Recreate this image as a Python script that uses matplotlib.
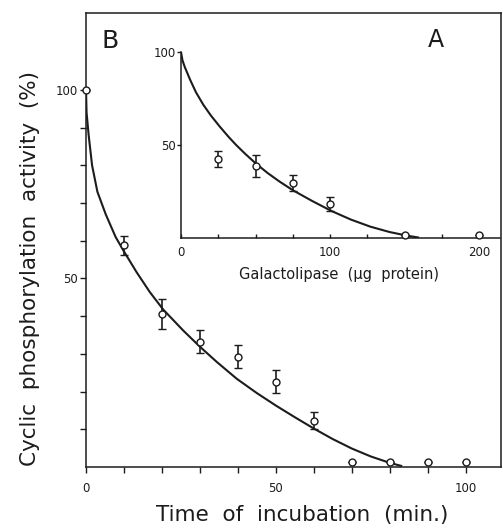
import matplotlib
matplotlib.use("Agg")
import matplotlib.pyplot as plt
from matplotlib.ticker import MultipleLocator, FixedLocator

# ---- Main panel (B): time course ----
time_min = [0, 10, 20, 30, 40, 50, 60, 70, 80, 90, 100]
activity_b = [100, 58.8, 40.5, 33.2, 29.3, 22.6, 12.3, 1.2, 1.2, 1.2, 1.2]
err_b = [0, 2.5, 4.0, 3.0, 3.0, 3.0, 2.3, 0, 0, 0, 0]

curve_b_x = [0, 0.15, 0.7, 1.6, 3.0, 5.2, 7.8, 9.8, 13.3, 16.8, 20.3, 25.6,
             30.0, 34.4, 39.7, 45, 50, 55, 60, 65, 70, 75, 80, 83]
curve_b_y = [100, 94, 88, 80, 73, 67, 61, 57.5, 51.7, 46.4, 41.8, 36.2,
             31.9, 27.9, 23.4, 19.6, 16.3, 13.2, 10.2, 7.4, 4.9, 2.8, 1.1, 0.3]

# ---- Inset (A): enzyme amount ----
galacto_ug = [25, 50, 75, 100, 150, 200]
activity_a = [42.3, 38.7, 29.6, 18.3, 1.6, 1.6]
err_a = [4.3, 6.0, 4.3, 3.8, 0, 0]

curve_a_x = [0, 1, 2.5, 6, 10, 15, 20, 26, 32, 37, 43, 50, 58, 66, 75, 88,
             101, 114, 127, 140, 152, 159]
curve_a_y = [100, 95.5, 92, 85.3, 78.4, 71.6, 65.9, 59.9, 54.3, 50.0, 45.3,
             40.2, 35.0, 30.4, 25.7, 19.9, 14.5, 9.9, 6.1, 3.2, 1.2, 0.3]

ink = "#1c1c1c"
plt.rcParams["font.family"] = ["DejaVu Sans"]

fig = plt.figure(figsize=(5.03, 5.28), dpi=100)
fig.patch.set_facecolor("white")

ax = fig.add_axes([86 / 503, 1 - 467 / 528, 415 / 503, 454 / 528])
ax.plot(curve_b_x, curve_b_y, color=ink, lw=1.5, zorder=2,
        solid_joinstyle="round")
ax.errorbar(time_min, activity_b, yerr=err_b, fmt="o", mfc="white", mec=ink,
            ms=5, mew=1.0, ecolor=ink, elinewidth=1.2, capsize=3, capthick=1.2,
            zorder=3, clip_on=False)
ax.set_xlim(0, 109.3)
ax.set_ylim(0, 120.4)
ax.xaxis.set_major_locator(FixedLocator([0, 50, 100]))
ax.xaxis.set_minor_locator(MultipleLocator(10))
ax.yaxis.set_major_locator(FixedLocator([50, 100]))
ax.yaxis.set_minor_locator(FixedLocator([10, 20, 30, 40, 60, 70, 80, 90]))
ax.tick_params(which="both", direction="out", length=4, width=1, color=ink,
               labelcolor=ink, labelsize=8.5)
ax.tick_params(axis="x", which="both", pad=7)
ax.tick_params(axis="y", which="both", pad=1.5)
for s in ax.spines.values():
    s.set_linewidth(1.1)
    s.set_color(ink)

ax.set_xlabel("Time  of  incubation  (min.)", fontsize=15.5, color=ink)
ax.xaxis.set_label_coords((302 - 86) / 415, (467 - 505) / 454)
ax.set_ylabel("Cyclic  phosphorylation  activity  (%)", fontsize=15.5,
              color=ink)
ax.yaxis.set_label_coords((40 - 86) / 415, (467 - 268) / 454)
fig.text(110 / 503, 1 - 41 / 528, "B", fontsize=18, color=ink, ha="center",
         va="center")
fig.text(436 / 503, 1 - 40 / 528, "A", fontsize=17, color=ink, ha="center",
         va="center")

# inset
ins = fig.add_axes([181 / 503, 1 - 238 / 528, 319 / 503, 186 / 528])
ins.patch.set_alpha(0)
ins.plot(curve_a_x, curve_a_y, color=ink, lw=1.5, zorder=2,
         solid_joinstyle="round")
ins.errorbar(galacto_ug, activity_a, yerr=err_a, fmt="o", mfc="white", mec=ink,
             ms=5, mew=1.0, ecolor=ink, elinewidth=1.2, capsize=3,
             capthick=1.2, zorder=3, clip_on=False)
ins.set_xlim(0, 214)
ins.set_ylim(0, 100)
ins.spines["top"].set_visible(False)
ins.spines["right"].set_visible(False)
for s in ("left", "bottom"):
    ins.spines[s].set_linewidth(1.1)
    ins.spines[s].set_color(ink)
ins.xaxis.set_major_locator(FixedLocator([0, 100, 200]))
ins.xaxis.set_minor_locator(MultipleLocator(25))
ins.yaxis.set_major_locator(FixedLocator([50, 100]))
ins.yaxis.set_minor_locator(FixedLocator([]))
ins.tick_params(axis="x", which="both", direction="in", length=3, width=1,
                color=ink, labelcolor=ink, labelsize=8.5, pad=6)
ins.tick_params(axis="y", which="both", direction="out", length=3, width=1,
                color=ink, labelcolor=ink, labelsize=8.5, pad=1)
ins.set_xlabel("Galactolipase  (\u00b5g  protein)", fontsize=10.5, color=ink)
ins.xaxis.set_label_coords((339 - 181) / 319, -(267 - 238) / 186)

fig.savefig("out.png", dpi=100, facecolor="white")
